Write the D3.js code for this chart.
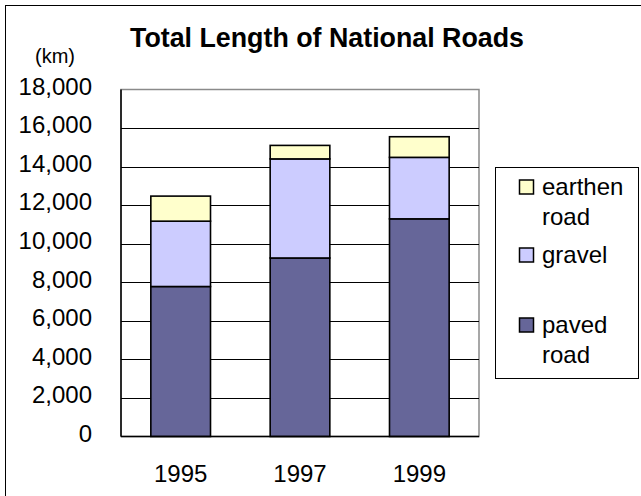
<!DOCTYPE html>
<html><head><meta charset="utf-8">
<script src="https://cdn.jsdelivr.net/npm/d3@7"></script>
<style>html,body{margin:0;padding:0;background:#fff;}svg{display:block;font-family:"Liberation Sans",Arial,sans-serif;}</style>
</head><body>
<script>
const years = ["1995", "1997", "1999"];
const paved = [7780, 9260, 11290];
const gravel = [3390, 5140, 3190];
const earthen = [1300, 700, 1070];
const seriesNames = ["paved road", "gravel", "earthen road"];
const seriesColors = ["#666699", "#CCCCFF", "#FFFFCC"];
const yTicks = [0, 2000, 4000, 6000, 8000, 10000, 12000, 14000, 16000, 18000];
const title = "Total Length of National Roads";
const unit = "(km)";

const W = 641, H = 496;
const svg = d3.select("body").append("svg").attr("width", W).attr("height", H);

// chart border
svg.append("rect").attr("x", 5.5).attr("y", 5.5).attr("width", 700).attr("height", 600)
  .attr("fill", "#fff").attr("stroke", "#000").attr("stroke-width", 1);

const pLeft = 121, pRight = 479, pTop = 89.5, pBottom = 436.5;
const x = d3.scaleBand().domain(years).range([pLeft, pRight]).paddingInner(0.5).paddingOuter(0.25);
const y = d3.scaleLinear().domain([0, 18000]).range([pBottom, pTop]);

// plot area frame
svg.append("rect").attr("x", pLeft).attr("y", pTop).attr("width", pRight - pLeft).attr("height", pBottom - pTop)
  .attr("fill", "none").attr("stroke", "#8a8a8a").attr("stroke-width", 1.5);

// gridlines
svg.append("g").selectAll("line").data(yTicks.filter(d => d > 0 && d < 18000)).join("line")
  .attr("x1", pLeft).attr("x2", pRight)
  .attr("y1", d => Math.round(y(d)) + 0.5).attr("y2", d => Math.round(y(d)) + 0.5)
  .attr("stroke", "#000").attr("stroke-width", 1);

// stacked data
const table = years.map((yr, i) => ({year: yr, "paved road": paved[i], "gravel": gravel[i], "earthen road": earthen[i]}));
const stacked = d3.stack().keys(seriesNames)(table);

svg.append("g").selectAll("g").data(stacked).join("g")
  .attr("fill", (d, i) => seriesColors[i])
  .selectAll("rect").data(d => d).join("rect")
  .attr("x", d => x(d.data.year))
  .attr("width", x.bandwidth())
  .attr("y", d => y(d[1]))
  .attr("height", d => y(d[0]) - y(d[1]))
  .attr("stroke", "#000").attr("stroke-width", 1.6);

// axes lines
svg.append("line").attr("x1", pLeft).attr("x2", pLeft).attr("y1", pTop).attr("y2", pBottom)
  .attr("stroke", "#000").attr("stroke-width", 1.5);
svg.append("line").attr("x1", pLeft).attr("x2", pRight).attr("y1", pBottom).attr("y2", pBottom)
  .attr("stroke", "#000").attr("stroke-width", 1.5);

// y tick labels
const yAxis = d3.axisLeft(y).tickValues(yTicks).tickSize(0).tickPadding(0).tickFormat(d3.format(","));
const gy = svg.append("g").attr("transform", `translate(92,0)`).call(yAxis);
gy.select(".domain").remove();
gy.selectAll("text").attr("font-size", 24).attr("fill", "#000").attr("dy", "0.28em")
  .attr("font-family", "Liberation Sans, Arial, sans-serif").attr("transform", "translate(0,-2)");

// x tick labels
const xAxis = d3.axisBottom(x).tickSize(0).tickPadding(0);
const gx = svg.append("g").attr("transform", `translate(0,${pBottom})`).call(xAxis);
gx.select(".domain").remove();
gx.selectAll("text").attr("font-size", 24).attr("fill", "#000").attr("dy", null)
  .attr("y", 45).attr("font-family", "Liberation Sans, Arial, sans-serif");

// title
svg.append("text").attr("x", 327).attr("y", 47).attr("text-anchor", "middle")
  .attr("font-size", 26.8).attr("font-weight", "bold").text(title);
svg.append("text").attr("x", 55).attr("y", 63).attr("text-anchor", "middle")
  .attr("font-size", 20).text(unit);

// legend
const lg = svg.append("g");
lg.append("rect").attr("x", 495.5).attr("y", 167.5).attr("width", 143).attr("height", 211)
  .attr("fill", "#fff").attr("stroke", "#000").attr("stroke-width", 1);
const legendItems = [
  {name: "earthen road", lines: ["earthen", "road"], color: seriesColors[2], base: 195},
  {name: "gravel", lines: ["gravel"], color: seriesColors[1], base: 263},
  {name: "paved road", lines: ["paved", "road"], color: seriesColors[0], base: 333}
];
legendItems.forEach(it => {
  lg.append("rect").attr("x", 519.5).attr("y", it.base - 15).attr("width", 14).attr("height", 14)
    .attr("fill", it.color).attr("stroke", "#000").attr("stroke-width", 1.5);
  it.lines.forEach((ln, j) => {
    lg.append("text").attr("x", 542).attr("y", it.base + j * 30).attr("font-size", 24).text(ln);
  });
});
</script>
</body></html>
